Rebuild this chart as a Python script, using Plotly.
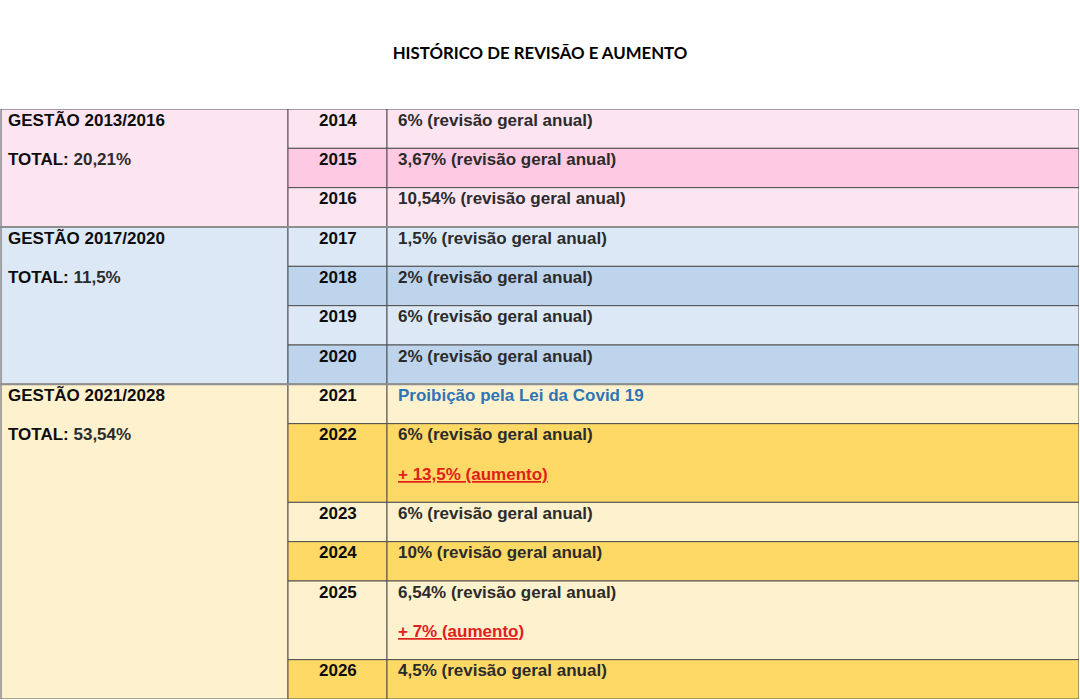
import plotly.graph_objects as go

# dados da tabela
gestoes = ["GESTÃO 2013/2016", "GESTÃO 2017/2020", "GESTÃO 2021/2028"]
totais = ["20,21%", "11,5%", "53,54%"]
anos = [2014, 2015, 2016, 2017, 2018, 2019, 2020, 2021, 2022, 2023, 2024, 2025, 2026]
grupo = [0, 0, 0, 1, 1, 1, 1, 2, 2, 2, 2, 2, 2]
revisao = ["6%", "3,67%", "10,54%", "1,5%", "2%", "6%", "2%", None,
           "6%", "6%", "10%", "6,54%", "4,5%"]
aumento = [None, None, None, None, None, None, None, None,
           "13,5%", None, None, "7%", None]
nota_covid = "Proibição pela Lei da Covid 19"

# cores por gestão: (clara, escura)
cores = [("#FDE4F1", "#FDC9E3"), ("#DCE8F5", "#BDD4EC"), ("#FEF1CE", "#FFD966")]
cor_linha = "#505050"
fonte = "Liberation Sans, Arial, sans-serif"
tam = 17

# colunas (em px)
x0, x1, x2, x3 = 0, 288, 387, 1079

# linhas de texto de cada ano
linhas = []
for i in range(len(anos)):
    l = []
    if revisao[i]:
        l.append(("normal", f"{revisao[i]} (revisão geral anual)"))
    else:
        l.append(("nota", nota_covid))
    if aumento[i]:
        l.append(("aumento", f"+ {aumento[i]} (aumento)"))
    linhas.append(l)

alturas = [len(l) for l in linhas]
topos = [sum(alturas[:i]) for i in range(len(alturas))]
total = sum(alturas)

fig = go.Figure()
shapes = []
annotations = []

# coluna da gestão
for g in range(len(gestoes)):
    idx = [i for i in range(len(anos)) if grupo[i] == g]
    y_top = topos[idx[0]]
    y_bot = topos[idx[-1]] + alturas[idx[-1]]
    shapes.append(dict(type="rect", x0=x0 + 1, x1=x1, y0=y_top, y1=y_bot,
                       fillcolor=cores[g][0], line=dict(color=cor_linha, width=1), layer="below"))
    annotations.append(dict(x=x0 + 6, y=y_top + 0.28, xanchor="left", yanchor="middle",
                            text=f"<b>{gestoes[g]}</b>", font=dict(color="#0d0d0d")))
    annotations.append(dict(x=x0 + 6, y=y_top + 1.28, xanchor="left", yanchor="middle",
                            text=f"<b>TOTAL: </b><b style='color:#2b2b2b'>{totais[g]}</b>",
                            font=dict(color="#0d0d0d")))
    # linhas dos anos da gestão
    for k, i in enumerate(idx):
        cor = cores[g][k % 2]
        for cx0, cx1 in [(x1, x2), (x2, x3)]:
            shapes.append(dict(type="rect", x0=cx0, x1=cx1, y0=topos[i], y1=topos[i] + alturas[i],
                               fillcolor=cor, line=dict(color=cor_linha, width=1), layer="below"))
        annotations.append(dict(x=(x1 + x2) / 2, y=topos[i] + 0.28, xanchor="center", yanchor="middle",
                                text=f"<b>{anos[i]}</b>", font=dict(color="#0d0d0d")))
        for j, (tipo, txt) in enumerate(linhas[i]):
            if tipo == "nota":
                t, c = f"<b>{txt}</b>", "#2E75B6"
            elif tipo == "aumento":
                t, c = f"<b><u>{txt}</u></b>", "#E0201B"
            else:
                t, c = f"<b>{txt}</b>", "#2b2b2b"
            annotations.append(dict(x=x2 + 9, y=topos[i] + j + 0.28, xanchor="left", yanchor="middle",
                                    text=t, font=dict(color=c)))

# separação entre gestões
for g in range(1, len(gestoes)):
    i = grupo.index(g)
    shapes.append(dict(type="line", x0=x0, x1=x3, y0=topos[i], y1=topos[i],
                       line=dict(color="#8E8E8E", width=2)))

for a in annotations:
    a.update(xref="x", yref="y", showarrow=False)
    a.setdefault("font", {})
    a["font"].update(family=fonte, size=tam)

fig.update_layout(
    width=1080, height=700,
    margin=dict(l=0, r=1, t=109, b=1),
    paper_bgcolor="white", plot_bgcolor="white",
    xaxis=dict(range=[0, 1079], visible=False, fixedrange=True),
    yaxis=dict(range=[total, 0], visible=False, fixedrange=True),
    shapes=shapes, annotations=annotations,
    showlegend=False,
    title=dict(text="<b>HISTÓRICO DE REVISÃO E AUMENTO</b>", x=0.5, xanchor="center",
               y=1 - 53 / 700, yanchor="middle", yref="container",
               font=dict(family="Lato, Open Sans, sans-serif", size=16.8, color="#000000")),
)

fig.write_html("out.html", config={"displayModeBar": False},
               post_script="document.body.style.margin='0px';")
